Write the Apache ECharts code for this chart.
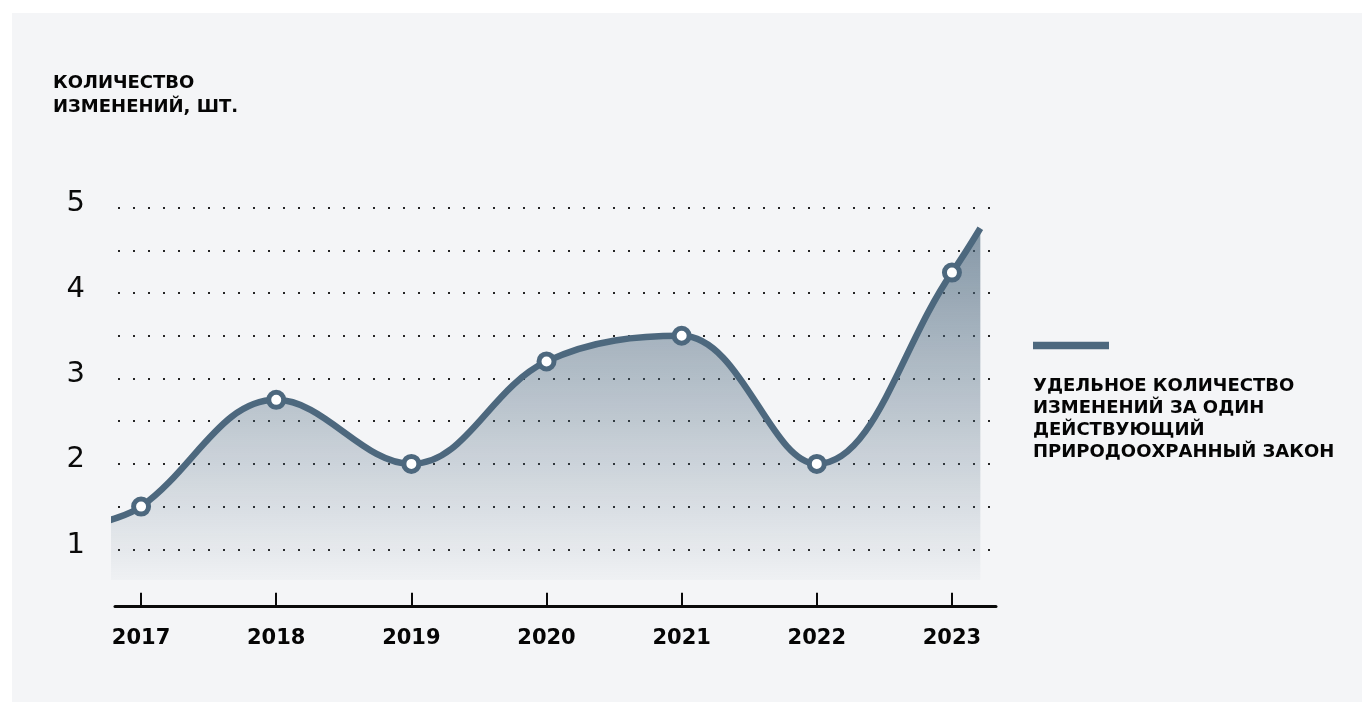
<!DOCTYPE html>
<html>
<head>
<meta charset="utf-8">
<script src="https://cdn.jsdelivr.net/npm/echarts@6/dist/echarts.min.js"></script>
<style>
  html, body { margin: 0; padding: 0; background: #ffffff; }
  #panel { position: absolute; left: 12px; top: 13px; width: 1350px; height: 689px; background: #f4f5f7; }
  #chart { position: absolute; left: 0; top: 0; width: 1362px; height: 702px; }
</style>
</head>
<body>
<div id="panel"></div>
<div id="chart"></div>
<script>
// ---- data ----
var years = [2017, 2018, 2019, 2020, 2021, 2022, 2023];
var values = [1.5, 2.75, 2.0, 3.2, 3.5, 2.0, 4.24];
// the curve runs a little past the first and last year
var leadIn = [2016.72, 1.32];
var leadOut = [2023.21, 4.76];
var yTickLabels = [1, 2, 3, 4, 5];
var yAxisTitle = 'КОЛИЧЕСТВО\nИЗМЕНЕНИЙ, ШТ.';
var seriesName = 'УДЕЛЬНОЕ КОЛИЧЕСТВО\nИЗМЕНЕНИЙ ЗА ОДИН\nДЕЙСТВУЮЩИЙ\nПРИРОДООХРАННЫЙ ЗАКОН';

var LINE = '#4d687e';
var FONT = 'DejaVu Sans';

var seriesData = [{ value: leadIn, symbol: 'none' }];
years.forEach(function (y, i) { seriesData.push({ value: [y, values[i]] }); });
seriesData.push({ value: leadOut, symbol: 'none' });

var chart = echarts.init(document.getElementById('chart'), null, { renderer: 'canvas' });
chart.setOption({
  backgroundColor: 'transparent',
  animation: false,
  grid: { left: 115, right: 366, top: 207.7, bottom: 110, containLabel: false },
  xAxis: {
    type: 'value',
    min: 2016.807,
    max: 2023.326,
    offset: 14.7,
    axisLine: { show: true, lineStyle: { color: '#0a0a0a', width: 3 } },
    axisTick: { show: true, inside: true, length: 14, customValues: years, lineStyle: { color: '#0a0a0a', width: 2 } },
    axisLabel: {
      customValues: years,
      margin: 21,
      color: '#050505',
      fontFamily: FONT,
      fontWeight: 'bold',
      fontSize: 21,
      formatter: function (v) { return String(Math.round(v)); }
    },
    splitLine: { show: false }
  },
  yAxis: {
    type: 'value',
    min: 0.5,
    max: 5,
    interval: 0.5,
    axisLine: { show: false },
    axisTick: { show: false },
    axisLabel: {
      margin: 30,
      color: '#0a0a0a',
      fontFamily: FONT,
      fontSize: 29,
      verticalAlign: 'bottom',
      lineHeight: 8,
      formatter: function (v) { return yTickLabels.indexOf(v) >= 0 ? String(v) : ''; }
    },
    splitLine: {
      show: true,
      showMinLine: false,
      lineStyle: { color: '#262626', width: 2, type: [2, 13], dashOffset: 12 }
    }
  },
  series: [{
    name: seriesName,
    type: 'line',
    data: seriesData,
    smooth: 0.38,
    clip: false,
    symbol: 'circle',
    symbolSize: 15,
    lineStyle: { color: LINE, width: 6.5 },
    itemStyle: { color: '#ffffff', borderColor: LINE, borderWidth: 5 },
    areaStyle: {
      origin: 0.64,
      color: {
        type: 'linear', x: 0, y: 0, x2: 0, y2: 1,
        colorStops: [
          { offset: 0, color: 'rgba(77,104,126,0.95)' },
          { offset: 1, color: 'rgba(77,104,126,0.04)' }
        ]
      }
    },
    z: 3
  }],
  graphic: [
    {
      type: 'text', left: 53, top: 71,
      style: { text: yAxisTitle, fill: '#050505', font: 'bold 18px "DejaVu Sans"', lineHeight: 24 }
    },
    {
      type: 'rect', shape: { x: 1033, y: 341.7, width: 76, height: 7.6 },
      style: { fill: LINE }
    },
    {
      type: 'text', left: 1033, top: 375,
      style: { text: seriesName, fill: '#050505', font: 'bold 18px "DejaVu Sans"', lineHeight: 22 }
    }
  ]
});
</script>
</body>
</html>
